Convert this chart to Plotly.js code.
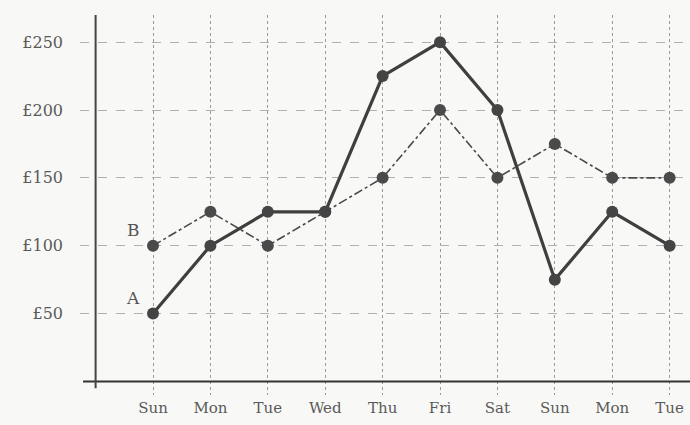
<!DOCTYPE html>
<html><head><meta charset="utf-8">
<script src="https://cdn.plot.ly/plotly-3.0.1.min.js"></script>
<style>html,body{margin:0;padding:0;background:#f8f8f6;}</style>
</head><body>
<div id="chart" style="width:690px;height:425px;"></div>
<script>
const days = ["Sun","Mon","Tue","Wed","Thu","Fri","Sat","Sun","Mon","Tue"];
const seriesA = [50,100,125,125,225,250,200,75,125,100];
const seriesB = [100,125,100,125,150,200,150,175,150,150];
const yTicks = [50,100,150,200,250];
const yTickText = ["£50","£100","£150","£200","£250"];
const xIdx = days.map((d,i)=>i);

const traceB = {x:xIdx, y:seriesB, mode:'lines+markers', name:'B',
  line:{color:'#4a4a4a', width:1.6, dash:'dashdot'},
  marker:{color:'#4a4a4a', size:12}};
const traceA = {x:xIdx, y:seriesA, mode:'lines+markers', name:'A',
  line:{color:'#3f3f3f', width:3.2},
  marker:{color:'#444', size:12}};

const fam = '"DejaVu Serif", "Liberation Serif", serif';
const layout = {
  width:690, height:425,
  margin:{l:80, r:0, t:15, b:30},
  paper_bgcolor:'#f8f8f6', plot_bgcolor:'#f8f8f6',
  showlegend:false, font:{family:fam, color:'#555', size:15},
  xaxis:{range:[-1.272, 9.355], tickvals:xIdx, ticktext:days, showgrid:true,
    gridcolor:'#9a9a9a', griddash:'dot', gridwidth:1, zeroline:false, showline:false,
    ticks:'', ticklabelstandoff:2, tickfont:{size:15, color:'#5a5a5a', family:fam}, fixedrange:true},
  yaxis:{range:[-10, 270], tickvals:yTicks, ticktext:yTickText, showgrid:true,
    gridcolor:'#b0b0b0', griddash:'dash', gridwidth:1, zeroline:false, showline:false,
    ticks:'', ticklabelstandoff:16, tickfont:{size:16, color:'#5a5a5a', family:fam}},
  shapes:[
    {type:'line', xref:'paper', yref:'y', x0:0.005, x1:1, y0:0, y1:0, line:{color:'#333', width:2}},
    {type:'line', xref:'x', yref:'y', x0:-1, x1:-1, y0:-5, y1:270, line:{color:'#444', width:2}}
  ],
  annotations:[
    {x:0, y:seriesA[0], text:'A', showarrow:false, xshift:-20, yshift:16, font:{size:17, color:'#555', family:fam}},
    {x:0, y:seriesB[0], text:'B', showarrow:false, xshift:-20, yshift:16, font:{size:17, color:'#555', family:fam}}
  ]
};
Plotly.newPlot('chart', [traceB, traceA], layout, {displayModeBar:false, staticPlot:true});
</script>
</body></html>
